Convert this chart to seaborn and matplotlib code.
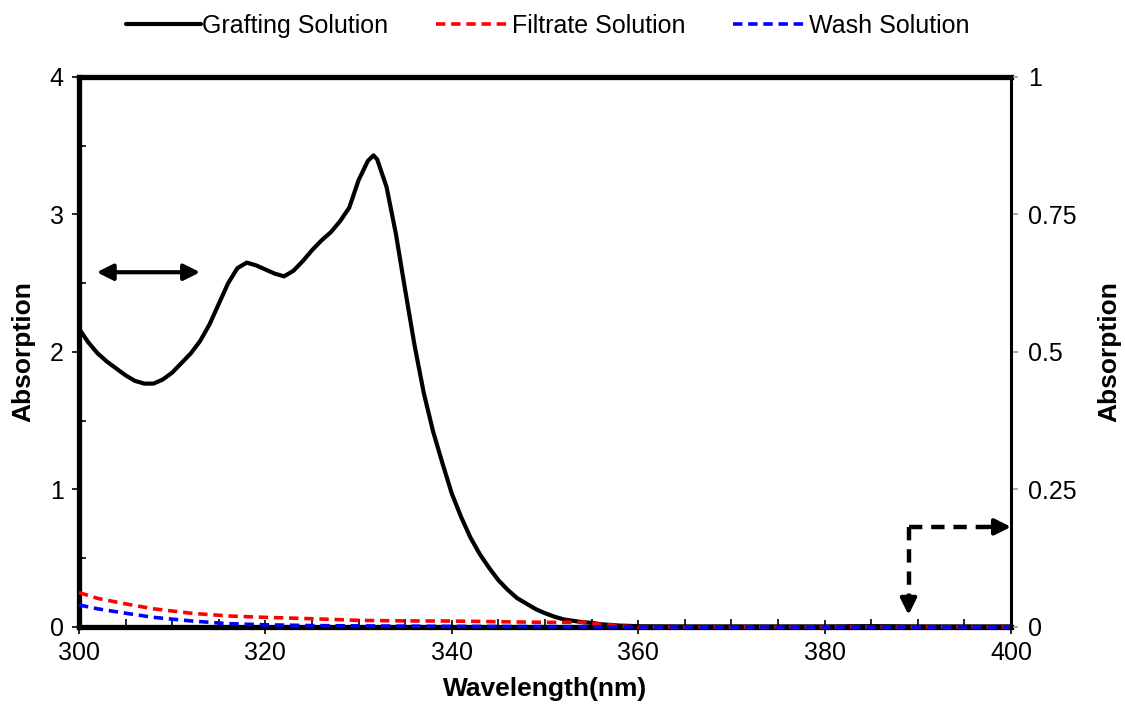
import matplotlib
matplotlib.use("Agg")
import matplotlib.pyplot as plt
import seaborn as sns
import pandas as pd
from matplotlib.ticker import MultipleLocator

# ---------------- data ----------------
graft_wl = [300, 301, 302, 303, 304, 305, 306, 307, 308, 309, 310, 311, 312, 313, 314,
            315, 316, 317, 318, 319, 320, 321, 322, 323, 324, 325, 326, 327, 328, 329,
            330, 331, 331.6, 332, 333, 334, 335, 336, 337, 338, 339, 340, 341, 342, 343,
            344, 345, 346, 347, 348, 349, 350, 351, 352, 353, 354, 355, 356, 357, 358,
            359, 360, 365, 370, 375, 380, 385, 390, 395, 400]
graft_abs = [2.17, 2.07, 1.99, 1.93, 1.88, 1.83, 1.79, 1.77, 1.77, 1.80, 1.85, 1.92, 1.99,
             2.08, 2.20, 2.35, 2.50, 2.61, 2.65, 2.63, 2.60, 2.57, 2.55, 2.59, 2.66, 2.74,
             2.81, 2.87, 2.95, 3.05, 3.25, 3.39, 3.43, 3.40, 3.20, 2.86, 2.45, 2.05, 1.70,
             1.42, 1.19, 0.97, 0.80, 0.65, 0.53, 0.43, 0.34, 0.27, 0.21, 0.17, 0.13, 0.10,
             0.075, 0.055, 0.045, 0.035, 0.03, 0.02, 0.015, 0.01, 0.008, 0.005, 0.004,
             0.004, 0.004, 0.004, 0.006, 0.004, 0.004, 0.004]

dil_wl = [300, 302, 305, 308, 312, 316, 320, 325, 330, 335, 340, 345, 350, 354, 356, 358,
          360, 365, 370, 375, 380, 385, 390, 395, 400]
filtrate_abs = [0.0625, 0.052, 0.042, 0.033, 0.025, 0.020, 0.0175, 0.015, 0.012, 0.011,
                0.0108, 0.0095, 0.0085, 0.0085, 0.005, 0.002, 0.0, 0.0, 0.0, 0.0, 0.0,
                0.0, 0.0, 0.0, 0.0]
wash_abs = [0.040, 0.033, 0.025, 0.0175, 0.011, 0.006, 0.004, 0.0025, 0.002, 0.0015,
            0.0012, 0.001, 0.0008, 0.0005, 0.0003, 0.0002, 0.0, 0.0, 0.0, 0.0, 0.0,
            0.0, 0.0, 0.0, 0.0]

series_names = ["Grafting Solution", "Filtrate Solution", "Wash Solution"]
left_ticks = [0, 1, 2, 3, 4]
right_ticks = [0, 0.25, 0.5, 0.75, 1]
right_tick_labels = ["0", "0.25", "0.5", "0.75", "1"]
x_ticks = [300, 320, 340, 360, 380, 400]

# annotation arrows (axis indicators)
left_arrow_x = (301.9, 313.0)
left_arrow_y = 2.58
right_arrow_corner = (389.0, 0.182)
right_arrow_down_tip = 0.022

# ---------------- style ----------------
sns.set_style("white")
plt.rcParams["font.family"] = ["Liberation Sans", "DejaVu Sans"]
plt.rcParams["text.color"] = "black"
plt.rcParams["axes.labelcolor"] = "black"
plt.rcParams["xtick.color"] = "black"
plt.rcParams["ytick.color"] = "black"

fig = plt.figure(figsize=(11.25, 7.09), dpi=100)
ax = fig.add_axes([0.0702, 0.1157, 0.8285, 0.7757])
ax2 = ax.twinx()

df_g = pd.DataFrame({"wl": graft_wl, "abs": graft_abs})
df_f = pd.DataFrame({"wl": dil_wl, "abs": filtrate_abs})
df_w = pd.DataFrame({"wl": dil_wl, "abs": wash_abs})

sns.lineplot(data=df_g, x="wl", y="abs", ax=ax, color="black", lw=3.0,
             label=series_names[0], legend=False)
sns.lineplot(data=df_f, x="wl", y="abs", ax=ax2, color="#ff0000", lw=2.6,
             linestyle=(0, (2.6, 1.6)), label=series_names[1], legend=False, clip_on=False)
sns.lineplot(data=df_w, x="wl", y="abs", ax=ax2, color="#0000ff", lw=2.6,
             linestyle=(0, (2.6, 1.6)), label=series_names[2], legend=False, clip_on=False)

ax.set_xlim(300, 400)
ax.set_ylim(0, 4)
ax2.set_ylim(0, 1)

# primary axis
ax.set_xticks(x_ticks)
ax.xaxis.set_minor_locator(MultipleLocator(5))
ax.set_yticks(left_ticks)
ax.yaxis.set_minor_locator(MultipleLocator(0.5))
ax.tick_params(axis="x", which="major", direction="inout", length=10, width=1.2,
               labelsize=18, pad=5, colors="black", bottom=True)
ax.tick_params(axis="x", which="minor", direction="in", length=6, width=1.2, bottom=True)
ax.tick_params(axis="y", which="major", direction="out", length=5, width=1.2,
               labelsize=18, pad=6, left=True, colors="black")
ax.tick_params(axis="y", which="minor", direction="in", length=5, width=1.2, left=True)

for side in ["left", "top", "bottom"]:
    ax.spines[side].set_linewidth(3.8)
    ax.spines[side].set_color("black")
ax.spines["right"].set_visible(False)

# secondary axis
ax2.set_yticks(right_ticks)
ax2.set_yticklabels(right_tick_labels)
ax2.tick_params(axis="y", direction="out", length=5, width=1.2, colors="#999999",
                labelcolor="black", labelsize=18, pad=7)
for side in ["left", "top", "bottom"]:
    ax2.spines[side].set_visible(False)
ax2.spines["right"].set_linewidth(2.2)
ax2.spines["right"].set_color("black")

ax.set_xlabel("Wavelength(nm)", fontsize=19, fontweight="bold", labelpad=9, color="black")
ax.set_ylabel("Absorption", fontsize=19, fontweight="bold", labelpad=10, color="black")
ax2.set_ylabel("Absorption", fontsize=19, fontweight="bold", labelpad=15,
               rotation=90, color="black")

# axis indicator arrows
ax.annotate("", xy=(left_arrow_x[0], left_arrow_y), xytext=(left_arrow_x[1], left_arrow_y),
            arrowprops=dict(arrowstyle="<|-|>", lw=3, color="black", mutation_scale=24,
                            shrinkA=0, shrinkB=0))
ax2.plot([right_arrow_corner[0], 398.0], [right_arrow_corner[1]] * 2, color="black",
         lw=3.2, linestyle=(0, (3, 2)))
ax2.plot([right_arrow_corner[0], right_arrow_corner[0]],
         [right_arrow_corner[1], right_arrow_down_tip + 0.03], color="black",
         lw=3.2, linestyle=(0, (3, 2)))
ax2.annotate("", xy=(400, right_arrow_corner[1]), xytext=(397.5, right_arrow_corner[1]),
             arrowprops=dict(arrowstyle="-|>", lw=3, color="black", mutation_scale=24,
                             shrinkA=0, shrinkB=0))
ax2.annotate("", xy=(right_arrow_corner[0], right_arrow_down_tip),
             xytext=(right_arrow_corner[0], right_arrow_down_tip + 0.035),
             arrowprops=dict(arrowstyle="-|>", lw=3, color="black", mutation_scale=24,
                             shrinkA=0, shrinkB=0))

# legend
h1, l1 = ax.get_legend_handles_labels()
h2, l2 = ax2.get_legend_handles_labels()
leg = fig.legend(h1 + h2, l1 + l2, loc="center", bbox_to_anchor=(0.487, 0.963), ncol=3,
                 frameon=False, fontsize=18, handlelength=3.0, handletextpad=0.05,
                 columnspacing=1.9)
for t in leg.get_texts():
    t.set_color("black")

fig.savefig("out.png", dpi=100)
